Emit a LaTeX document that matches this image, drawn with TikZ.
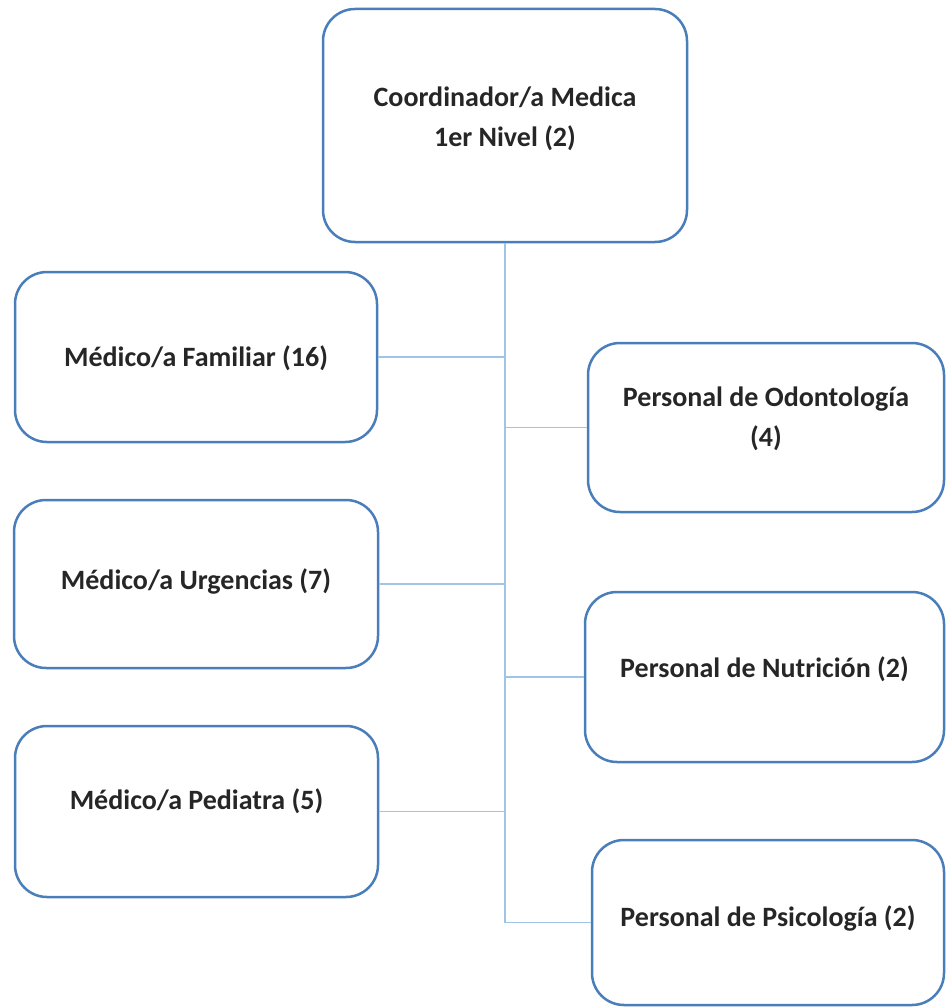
\documentclass[tikz,border=0pt]{standalone}
\usepackage{fontspec}
\setmainfont{Carlito}
\usepackage{xcolor}
\definecolor{borde}{RGB}{74,126,187}
\definecolor{enlace}{RGB}{160,196,230}
\definecolor{texto}{RGB}{38,38,38}
\tikzset{
    puesto/.style={draw=borde, line width=2.5pt, rounded corners=32pt, inner sep=0pt,
        align=center, text=texto, font=\bfseries\fontsize{28}{40}\selectfont},
    linea/.style={draw=enlace, line width=1.5pt}
}

\begin{document}
\begin{tikzpicture}[x=1pt, y=-1pt]
    \useasboundingbox (0,0) rectangle (947,1008);

    \node[puesto, minimum width=364pt, text height=138pt, text depth=95pt] (coord) at (505,125.5) {Coordinador/a Medica\\1er Nivel (2)};

    \node[puesto, minimum width=362pt, text height=94pt, text depth=76pt] (fam) at (196,357) {Médico/a Familiar (16)};
    \node[puesto, minimum width=364pt, text height=89pt, text depth=79pt] (urg) at (196,584) {Médico/a Urgencias (7)};
    \node[puesto, minimum width=363pt, text height=83pt, text depth=88pt] (ped) at (196.5,811.5) {Médico/a Pediatra (5)};

    \node[puesto, minimum width=356pt, text height=103pt, text depth=66pt] (odo) at (766,427.5) {Personal de Odontología\\(4)};
    \node[puesto, minimum width=359pt, text height=85pt, text depth=85pt] (nut) at (764.5,677) {Personal de Nutrición (2)};
    \node[puesto, minimum width=352pt, text height=86pt, text depth=79pt] (psi) at (768,922.5) {Personal de Psicología (2)};

    \draw[linea] (coord.south) -- (coord.south |- psi.west) -- (psi.west);
    \draw[linea] (fam.east) -- (fam.east -| coord.south);
    \draw[linea] (urg.east) -- (urg.east -| coord.south);
    \draw[linea] (ped.east) -- (ped.east -| coord.south);
    \draw[linea] (odo.west) -- (odo.west -| coord.south);
    \draw[linea] (nut.west) -- (nut.west -| coord.south);
\end{tikzpicture}
\end{document}
